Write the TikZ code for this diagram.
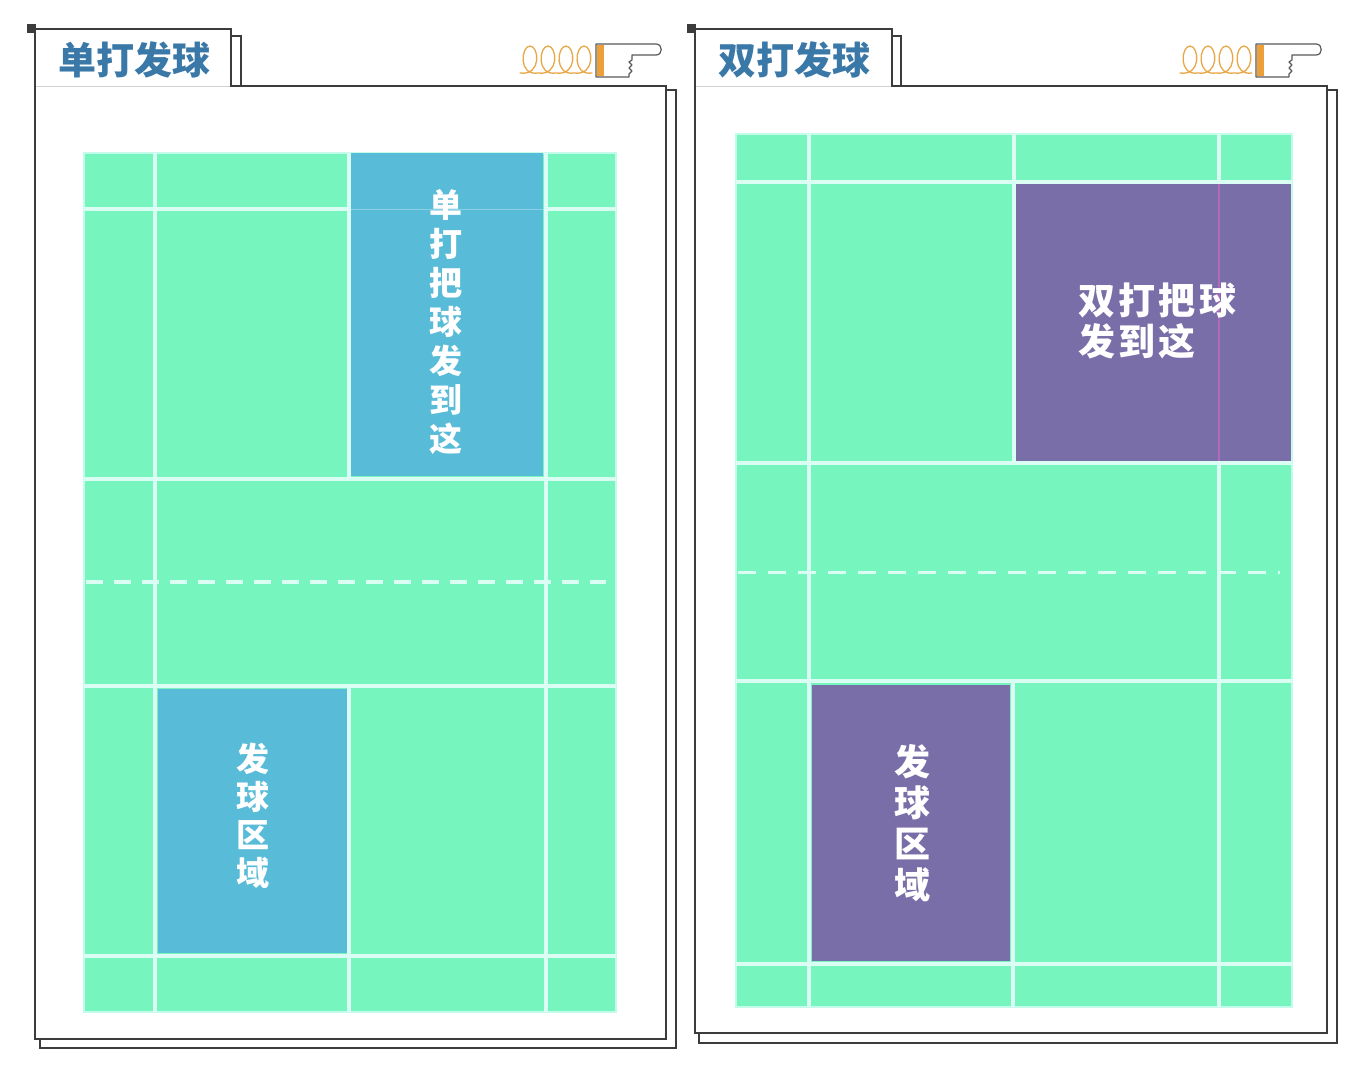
\documentclass[tikz,border=0pt]{standalone}
\usepackage{fontspec}
\newfontfamily\cjk{Noto Sans CJK SC}
\newfontfamily\cjkwide[LetterSpace=9]{Noto Sans CJK SC}
\usepackage{xcolor}
\definecolor{court}{HTML}{76F5BE}
\definecolor{courtline}{HTML}{DAFDF4}
\definecolor{courtglow}{HTML}{C4FBEA}
\definecolor{zonesingle}{HTML}{58BBD8}
\definecolor{zonedouble}{HTML}{7A6EA8}
\definecolor{zonemark}{HTML}{B468BC}
\definecolor{title}{HTML}{3A78A8}
\definecolor{frameline}{HTML}{3C3C3C}
\definecolor{spring}{HTML}{E8A848}
\tikzset{
  frameedge/.style={draw=frameline,line width=1.7pt,fill=white},
  courtedge/.style={courtline,line width=4.5pt},
  courtbase/.style={fill=court,draw=courtglow,line width=2pt},
  tabtitle/.style={font=\cjk\bfseries\fontsize{38}{40}\selectfont,text=title,inner sep=0pt},
  zonetext/.style={font=\cjk\bfseries\fontsize{#1}{#1}\selectfont,text=white,inner sep=0pt,align=center},
  pointer/.pic={
    \draw[spring,line width=1.3pt,line cap=round] (-76,29)
      \foreach \cx in {-66,-48,-30,-12} {
        .. controls (\cx+12,32) and (\cx+9,2) .. (\cx,2)
        .. controls (\cx-9,2) and (\cx-12,32) .. (\cx+8,29)
      };
    \draw[frameline!85,line width=1.2pt,fill=white,line join=round]
      (0,0) -- (60,0) .. controls (67,0) and (67,11) .. (60,11) -- (36,11)
      -- (36,16) -- (33,18) -- (36,21) -- (33,24) -- (36,27) -- (33,30)
      -- (33,33) -- (0,33) -- cycle;
    \fill[spring!80!orange] (0.6,0.6) rectangle (8,32.4);
  }
}
\begin{document}
\begin{tikzpicture}[x=1pt,y=-1pt]
  \useasboundingbox (0,0) rectangle (1354,1076);

  % Left panel: singles
  \draw[frameedge] (40,90) -- (676,90) -- (676,1048) -- (40,1048) -- cycle;
  \draw[frameedge,line width=1.3pt] (231,36) -- (241,36) -- (241,90) -- (231,90) -- cycle;
  \draw[frameedge] (35,86) -- (666,86) -- (666,1039) -- (35,1039) -- cycle;
  \draw[frameedge] (35,86) -- (35,29) -- (231,29) -- (231,86);
  \fill[white] (36,85) rectangle (230,87);
  \draw[black!18,line width=0.6pt] (36,86) -- (230,86);
  \fill[frameline] (27,24) rectangle (36,33);
  \node[tabtitle] (titleone) at (134,60) {单打发球};
  \pic at (596,44) {pointer};

  \draw[courtbase] (84,153) rectangle (616,1012);
  \fill[zonesingle] (351,153) rectangle (543,476);
  \fill[zonesingle] (158,689) rectangle (348,953);
  \foreach \x in {155,546} {
    \draw[courtedge] (\x,153) -- (\x,1012);
  }
  \draw[courtedge] (349,153) -- (349,478);
  \draw[courtedge] (349,687) -- (349,1012);
  \foreach \y in {479,686,956} {
    \draw[courtedge] (84,\y) -- (616,\y);
  }
  \draw[courtedge] (84,209) -- (349,209);
  \draw[courtedge] (546,209) -- (616,209);
  \draw[zonesingle!70!white,line width=1pt] (351,209) -- (543,209);
  \draw[courtedge,line width=3.5pt,dash pattern=on 17pt off 11pt] (86,582) -- (606,582);
  \node[zonetext=33] (zoneone) at (446,322) {单\\[6pt]打\\[6pt]把\\[6pt]球\\[6pt]发\\[6pt]到\\[6pt]这};
  \node[zonetext=33] (areaone) at (253,816) {发\\[5pt]球\\[5pt]区\\[5pt]域};

  % Right panel: doubles
  \draw[frameedge] (699,90) -- (1337,90) -- (1337,1043) -- (699,1043) -- cycle;
  \draw[frameedge,line width=1.3pt] (892,36) -- (901,36) -- (901,90) -- (892,90) -- cycle;
  \draw[frameedge] (695,86) -- (1327,86) -- (1327,1033) -- (695,1033) -- cycle;
  \draw[frameedge] (695,86) -- (695,29) -- (892,29) -- (892,86);
  \fill[white] (696,85) rectangle (891,87);
  \draw[black!18,line width=0.6pt] (696,86) -- (891,86);
  \fill[frameline] (687,24) rectangle (696,33);
  \node[tabtitle] (titletwo) at (794,60) {双打发球};
  \pic at (1256,44) {pointer};

  \draw[courtbase] (736,134) rectangle (1292,1007);
  \fill[zonedouble] (1016,184) rectangle (1291,461);
  \fill[zonedouble] (812,685) rectangle (1010,961);
  \draw[courtedge] (809,134) -- (809,1007);
  \draw[courtedge] (1219,134) -- (1219,182);
  \draw[courtedge] (1219,463) -- (1219,1007);
  \draw[zonemark,line width=1.5pt] (1219,184) -- (1219,461);
  \draw[courtedge] (1014,134) -- (1014,463);
  \draw[courtedge] (1013,682) -- (1013,1007);
  \foreach \y in {182,463,681,964} {
    \draw[courtedge] (736,\y) -- (1292,\y);
  }
  \draw[courtedge,line width=3pt,dash pattern=on 18pt off 12pt] (738,572) -- (1280,572);
  \node[zonetext=36,align=left,font=\cjkwide\bfseries\fontsize{37}{41}\selectfont,anchor=north west] (zonetwo) at (1078,283) {双打把球\\发到这};
  \node[zonetext=36] (areatwo) at (912,823) {发\\[5pt]球\\[5pt]区\\[5pt]域};
\end{tikzpicture}
\end{document}
